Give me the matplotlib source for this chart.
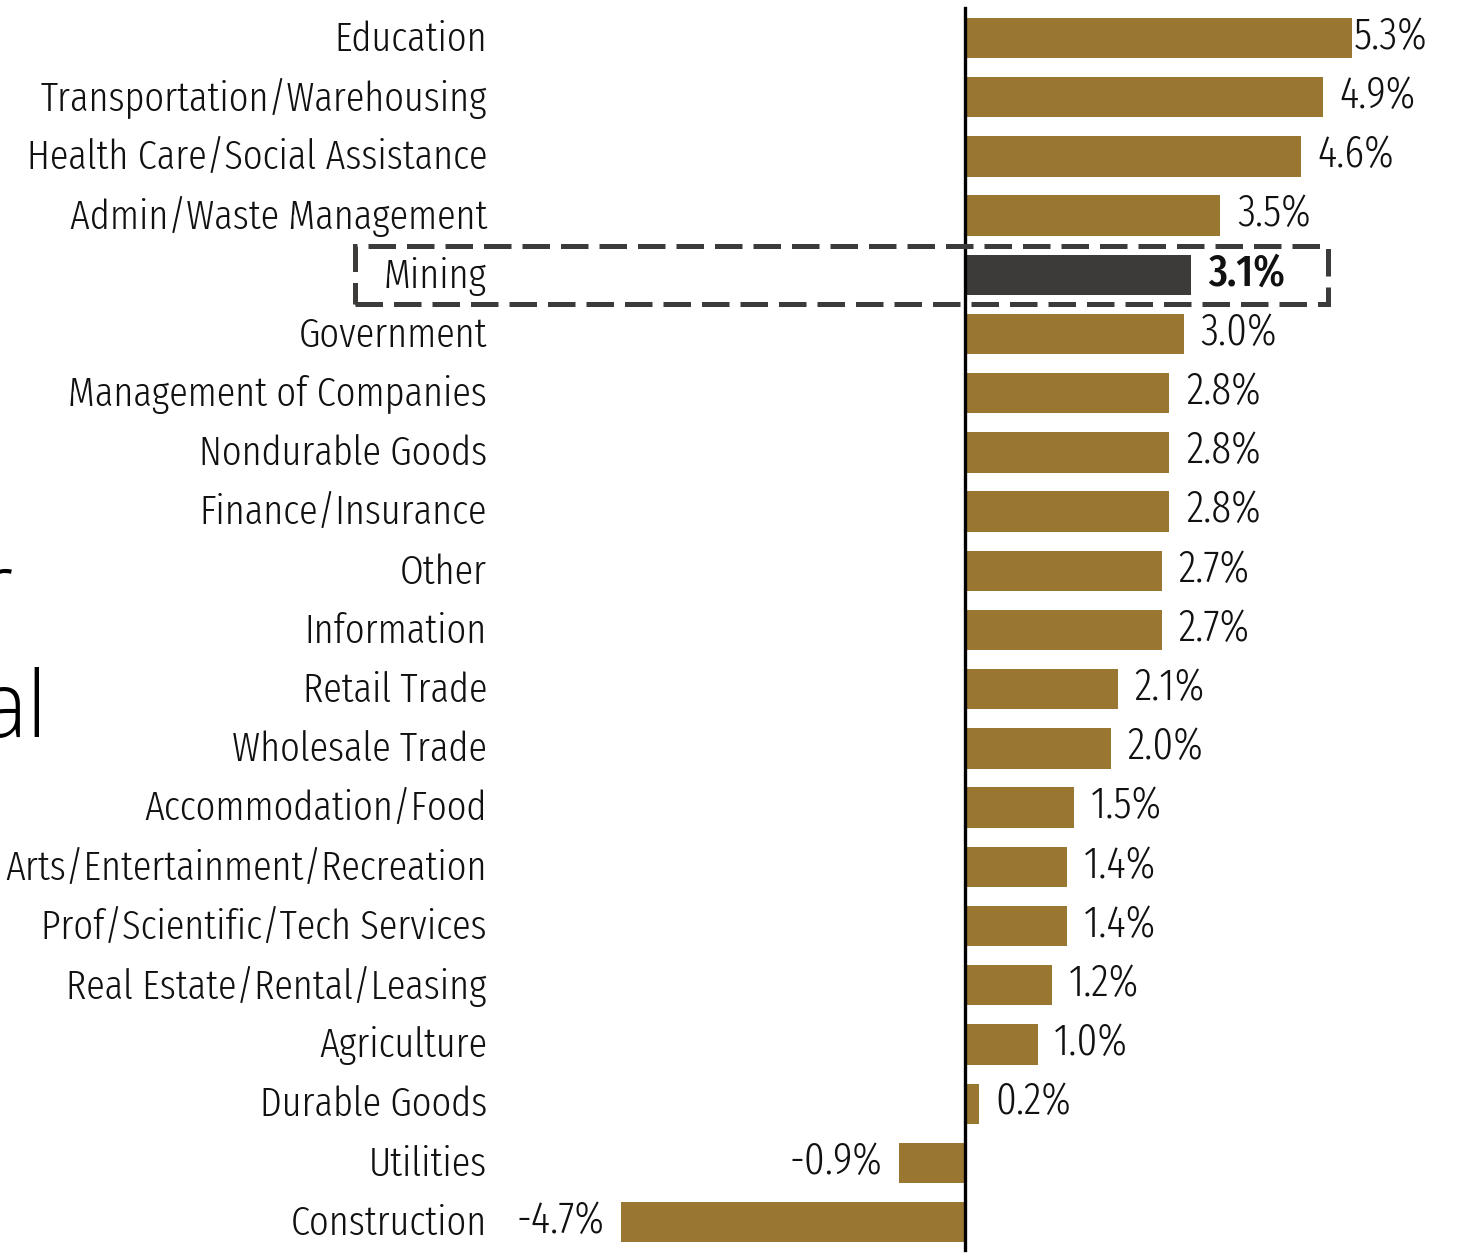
import matplotlib
matplotlib.use("Agg")
import matplotlib.pyplot as plt
import matplotlib.transforms as mtransforms
from matplotlib.patches import Rectangle

categories = ["Education", "Transportation/Warehousing", "Health Care/Social Assistance",
              "Admin/Waste Management", "Mining", "Government", "Management of Companies",
              "Nondurable Goods", "Finance/Insurance", "Other", "Information", "Retail Trade",
              "Wholesale Trade", "Accommodation/Food", "Arts/Entertainment/Recreation",
              "Prof/Scientific/Tech Services", "Real Estate/Rental/Leasing", "Agriculture",
              "Durable Goods", "Utilities", "Construction"]
values = [5.3, 4.9, 4.6, 3.5, 3.1, 3.0, 2.8, 2.8, 2.8, 2.7, 2.7, 2.1, 2.0, 1.5, 1.4, 1.4,
          1.2, 1.0, 0.2, -0.9, -4.7]
highlight = "Mining"

gold = "#997730"
dark = "#3d3b39"
font = ["Fira Sans Extra Condensed", "DejaVu Sans"]
fs = 30

fig = plt.figure(figsize=(14.6, 12.54), dpi=100)
ax = fig.add_axes([0.35, 0.0, 0.65, 1.0])

ypos = list(range(len(categories)))
colors = [dark if c == highlight else gold for c in categories]
ax.barh(ypos, values, height=0.68, color=colors)

ax.set_xlim(-6.204, 6.778)
ax.set_ylim(20.54, -0.642)
ax.axvline(0, ymin=0.0032, ymax=0.9936, color="black", lw=2.4)

ax.set_yticks(ypos)
ax.set_yticklabels(categories, fontsize=fs, family=font, weight=300, color="#111111")
ax.tick_params(axis="y", length=0, pad=17.3)
# nudge the category labels up a little
shift = mtransforms.ScaledTranslation(0, 2 / 72, fig.dpi_scale_trans)
for t in ax.get_yticklabels():
    t.set_transform(t.get_transform() + shift)
ax.set_xticks([])
for s in ax.spines.values():
    s.set_visible(False)

for y, v, c in zip(ypos, values, categories):
    lab = f"{v:.1f}%"
    w = 500 if c == highlight else 300
    if v >= 0:
        pad = 1.5 if v == max(values) else 12
        ax.annotate(lab, (v, y), xytext=(pad, 1), textcoords="offset points",
                    ha="left", va="center", fontsize=32, family=font, weight=w,
                    color="#111111")
    else:
        ax.annotate(lab, (v, y), xytext=(-12, 1), textcoords="offset points",
                    ha="right", va="center", fontsize=32, family=font, weight=w,
                    color="#111111")

# dashed box around the highlighted row
hi = categories.index(highlight)
trans = mtransforms.blended_transform_factory(fig.transFigure, ax.transData)
box = Rectangle((355 / 1460, hi + 0.49), (1328 - 355) / 1460, -0.98, transform=trans,
                fill=False, ec=dark, lw=3.6, linestyle=(0, (5.5, 2.2)), clip_on=False)
fig.add_artist(box)

# clipped slide text at the left edge
fig.text(13 / 1460, 1 - 619 / 1254, "r", fontsize=66, family="Open Sans", weight="light",
         ha="right", va="baseline", color="black")
fig.text(48 / 1460, 1 - 737 / 1254, "al", fontsize=66, family="Open Sans", weight="light",
         ha="right", va="baseline", color="black")

fig.savefig("out.png", dpi=100)
